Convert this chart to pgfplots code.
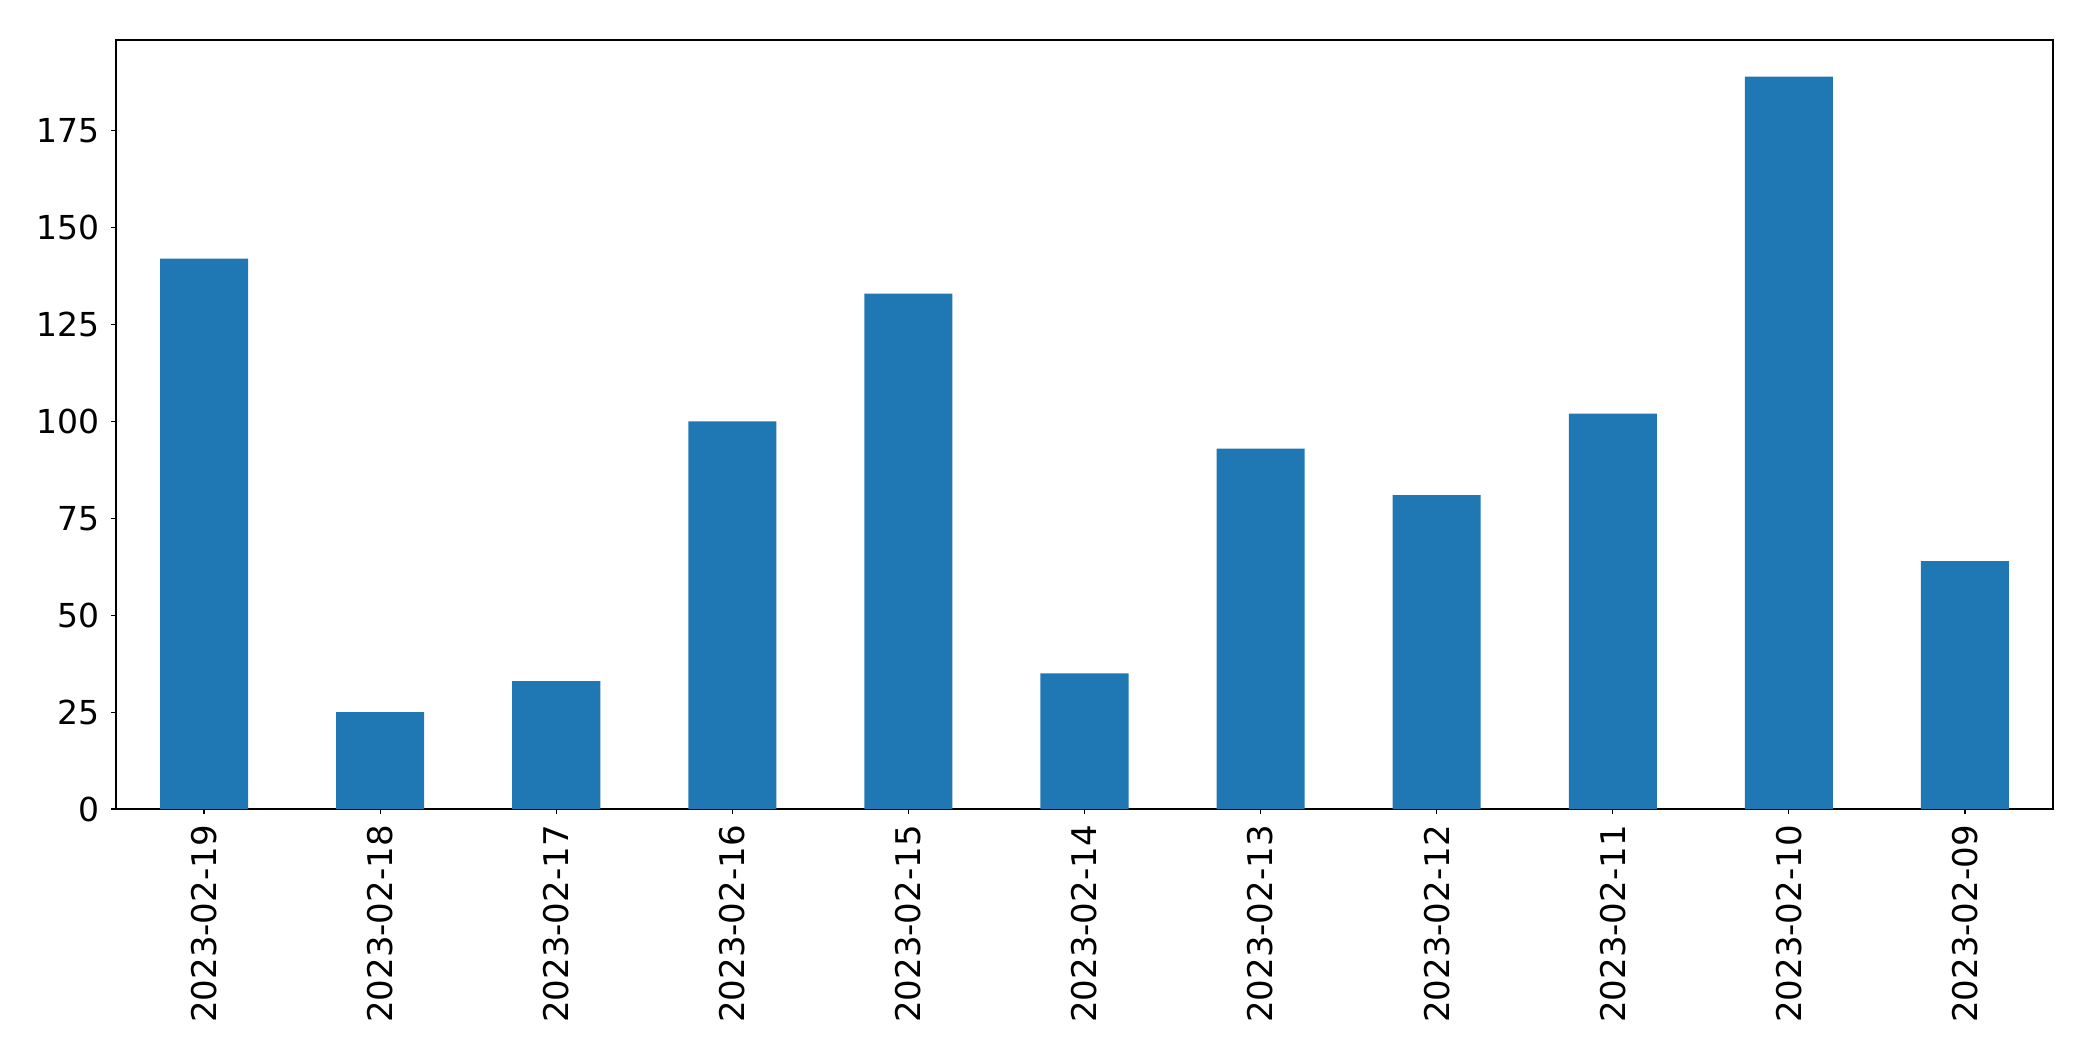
\documentclass[border=0pt]{standalone}
\usepackage{pgfplots}
\pgfplotsset{compat=1.18}
\usepackage{fontspec}
\setmainfont{DejaVu Sans}
\definecolor{mplblue}{HTML}{1F77B4}
\begin{document}
\begin{tikzpicture}
\begin{axis}[
  at={(0,0)}, anchor=south west,
  scale only axis,
  width=968.5pt, height=384.5pt,
  xmin=-0.5, xmax=10.5,
  ymin=0, ymax=198.45,
  ytick={0,25,50,75,100,125,150,175},
  xtick={0,1,2,3,4,5,6,7,8,9,10},
  xticklabels={2023-02-19,2023-02-18,2023-02-17,2023-02-16,2023-02-15,2023-02-14,2023-02-13,2023-02-12,2023-02-11,2023-02-10,2023-02-09},
  x tick label style={rotate=90, anchor=east, font=\fontsize{17}{20}\selectfont},
  y tick label style={font=\fontsize{16.5}{20}\selectfont},
  /pgf/number format/assume math mode=true,
  tick align=outside,
  tick pos=left,
  major tick length=2.6pt,
  tick style={black, line width=0.6pt},
  axis line style={line width=0.6pt},
  xticklabel shift=2pt,
  yticklabel shift=2pt,
]
\addplot[ybar, bar width=0.5, fill=mplblue, draw=none] coordinates {
(0,142) (1,25) (2,33) (3,100) (4,133) (5,35) (6,93) (7,81) (8,102) (9,189) (10,64)
};
\end{axis}
\path[use as bounding box] (-58pt,-126pt) rectangle (988.5pt,404.5pt);
\end{tikzpicture}
\end{document}
